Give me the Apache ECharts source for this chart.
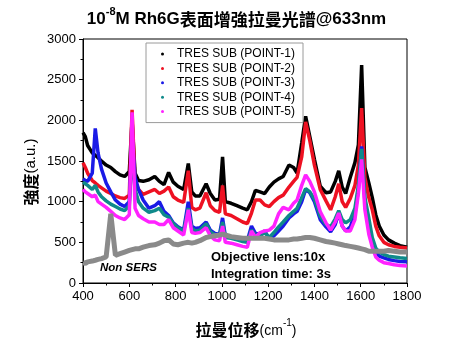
<!DOCTYPE html>
<html><head><meta charset="utf-8">
<script src="https://cdn.jsdelivr.net/npm/echarts@6/dist/echarts.min.js"></script>
<style>html,body{margin:0;padding:0;background:#fff}#c{width:473px;height:340px}</style>
</head><body><div id="c"></div>
<script>
const shift = [
  400,410,420,440,453,465,480,500,520,540,560,580,600,612,625,
  640,660,685,710,730,750,770,790,810,835,855,870,885,905,932,
  950,970,990,1003,1015,1040,1065,1090,1110,1128,1145,1165,1185,1205,1225,
  1245,1265,1290,1310,1325,1345,1362,1380,1400,1425,1450,1470,1490,1505,1520,
  1535,1555,1575,1590,1604,1618,1635,1650,1665,1680,1700,1720,1745,1770,1800];
const point1 = [
  1850,1800,1690,1600,1570,1540,1500,1450,1420,1370,1330,1310,1370,2000,1350,
  1260,1250,1270,1310,1250,1210,1360,1240,1190,1150,1470,1120,1070,1070,1220,
  1100,1020,1030,1550,1000,980,950,920,900,1000,1140,1120,1100,1180,1240,
  1280,1310,1450,1420,1350,1720,2050,1800,1520,1190,1110,1120,1250,1380,1180,
  1100,1300,1480,1700,2680,1420,1230,1050,840,700,590,530,490,460,440];
const point2 = [
  1480,1420,1350,1260,1230,1200,1170,1130,1100,1070,1050,1040,1080,2130,1250,
  1150,1090,1120,1150,1100,1130,1180,1060,1020,990,1380,930,900,920,1110,
  950,890,870,1200,850,830,790,750,730,860,1020,1020,960,940,1000,
  1050,1080,1180,1250,1300,1550,1980,1750,1450,1150,1010,900,1060,1220,1000,
  930,1040,1200,1450,2150,1300,1050,900,700,580,500,470,450,440,430];
const point3 = [
  1280,1260,1250,1350,1900,1600,1400,1230,1120,1020,970,940,1000,1800,1300,
  1150,1020,920,950,1000,880,830,740,690,650,1000,700,670,680,750,
  650,610,600,800,580,570,550,530,520,700,610,600,640,540,580,
  640,700,800,850,880,1000,1150,1110,1000,780,690,630,720,860,700,
  640,690,850,1150,1680,1000,700,490,380,330,310,290,275,265,260];
const point4 = [
  1240,1220,1200,1150,1200,1120,1060,1010,970,940,910,890,950,1600,1150,
  1000,920,870,890,920,840,810,730,680,640,920,670,640,650,730,
  630,590,580,750,560,550,530,510,500,650,590,580,620,560,620,
  690,750,830,880,920,1050,1160,1120,1030,820,720,690,790,890,780,
  740,780,920,1200,1650,1050,800,560,430,380,350,330,320,310,300];
const point5 = [
  1150,1120,1100,1060,1080,1000,970,930,880,830,800,780,840,2100,920,
  830,790,750,750,720,720,780,680,640,590,900,620,610,620,680,
  580,530,520,700,500,490,470,450,440,640,560,620,640,650,700,
  850,930,900,980,1020,1200,1330,1250,1120,880,740,650,750,860,700,
  640,640,780,1100,1520,900,600,440,320,280,250,240,225,215,210];
const nonSers = [
  250,240,260,270,280,290,300,320,850,340,360,380,400,410,420,
  420,440,460,470,490,520,530,480,470,490,500,490,500,520,560,
  570,580,590,600,590,570,560,550,550,550,550,550,550,540,530,
  530,530,530,540,540,550,560,560,550,530,510,500,490,480,470,
  460,450,440,430,420,410,390,390,390,390,390,400,390,380,380];
const seriesNames = ['TRES SUB (POINT-1)','TRES SUB (POINT-2)','TRES SUB (POINT-3)','TRES SUB (POINT-4)','TRES SUB (POINT-5)','Non SERS'];
const xTicks = {min:400, max:1800, step:200};
const yTicks = {min:0, max:3000, step:500};

const colors = ['#000000','#ee1122','#1a1ae6','#0f8a8a','#ff22ff','#8a8a8a'];
const widths = [3.5, 3.5, 3.5, 3.5, 3.5, 5];
const allData = [point1, point2, point3, point4, point5, nonSers];
const latin = '"Liberation Sans", Arial, sans-serif';
const cjk = '"Noto Sans CJK TC", "Noto Sans CJK SC", sans-serif';

const chart = echarts.init(document.getElementById('c'));
chart.setOption({
  animation:false,
  backgroundColor:'#fff',
  grid:{left:83, right:66, top:39, bottom:57, show:true, borderColor:'#000', borderWidth:1},
  xAxis:{type:'value', min:xTicks.min, max:xTicks.max, interval:xTicks.step,
    axisLine:{lineStyle:{color:'#000', width:1}},
    axisTick:{inside:false, length:4, lineStyle:{color:'#000'}},
    minorTick:{show:true, splitNumber:2, length:2.5, lineStyle:{color:'#000'}},
    splitLine:{show:false},
    axisLabel:{color:'#000', fontSize:13, fontFamily:latin, margin:7, formatter:v => String(v)}},
  yAxis:{type:'value', min:yTicks.min, max:yTicks.max, interval:yTicks.step,
    axisLine:{show:true, lineStyle:{color:'#000', width:1}},
    axisTick:{show:true, inside:false, length:4, lineStyle:{color:'#000'}},
    minorTick:{show:true, splitNumber:2, length:2.5, lineStyle:{color:'#000'}},
    splitLine:{show:false},
    axisLabel:{color:'#000', fontSize:13, fontFamily:latin, margin:7, formatter:v => String(v)}},
  legend:{data:seriesNames.slice(0,5), orient:'vertical', left:146, top:43,
    icon:'circle', itemWidth:3, itemHeight:3, itemGap:0.4,
    padding:[4,8,4,15], borderColor:'#9a9a9a', borderWidth:1, backgroundColor:'#fff',
    selectedMode:false,
    textStyle:{color:'#000', fontSize:12, fontFamily:latin, lineHeight:14, padding:[0,0,0,8]}},
  series: allData.map((arr, i) => ({
    name: seriesNames[i], type:'line', showSymbol:false, symbol:'circle', symbolSize:3,
    data: shift.map((x, j) => [x, arr[j]]),
    lineStyle:{color:colors[i], width:widths[i]},
    itemStyle:{color:colors[i]},
    z: 2 + i
  })),
  graphic:[
    {type:'text', left:'center', top:6, style:{
      text:'{a|10}{s|-8}{a|M Rh6G}{c|表面增強拉曼光譜}{a|@633nm}',
      rich:{
        a:{fontFamily:latin, fontWeight:'bold', fontSize:17, fill:'#000', verticalAlign:'bottom', lineHeight:22},
        s:{fontFamily:latin, fontWeight:'bold', fontSize:11, fill:'#000', verticalAlign:'top', lineHeight:22},
        c:{fontFamily:cjk, fontWeight:'bold', fontSize:17, fill:'#000', verticalAlign:'bottom', lineHeight:22}
      }}},
    {type:'text', x:31, y:172, rotation:Math.PI/2, style:{
      text:'{c|強度}{a|(a.u.)}', align:'center', verticalAlign:'middle',
      rich:{
        c:{fontFamily:cjk, fontWeight:'bold', fontSize:16, fill:'#000'},
        a:{fontFamily:latin, fontSize:15, fill:'#000'}
      }}},
    {type:'text', x:246, y:328, style:{
      text:'{c|拉曼位移}{a|(cm}{s|-1}{a|)}', align:'center', verticalAlign:'middle',
      rich:{
        c:{fontFamily:cjk, fontWeight:'bold', fontSize:16, fill:'#000', verticalAlign:'bottom', lineHeight:20},
        a:{fontFamily:latin, fontSize:14, fill:'#000', verticalAlign:'bottom', lineHeight:20},
        s:{fontFamily:latin, fontSize:10, fill:'#000', verticalAlign:'top', lineHeight:20}
      }}},
    {type:'text', x:100, y:268, z:100, style:{text:'Non SERS', font:'italic bold 11.5px "Liberation Sans", Arial', fill:'#000', verticalAlign:'middle'}},
    {type:'text', x:211, y:257, z:100, style:{text:'Objective lens:10x', font:'bold 13px "Liberation Sans", Arial', fill:'#000', verticalAlign:'middle'}},
    {type:'text', x:211, y:274, z:100, style:{text:'Integration time: 3s', font:'bold 13px "Liberation Sans", Arial', fill:'#000', verticalAlign:'middle'}}
  ]
});
</script></body></html>
